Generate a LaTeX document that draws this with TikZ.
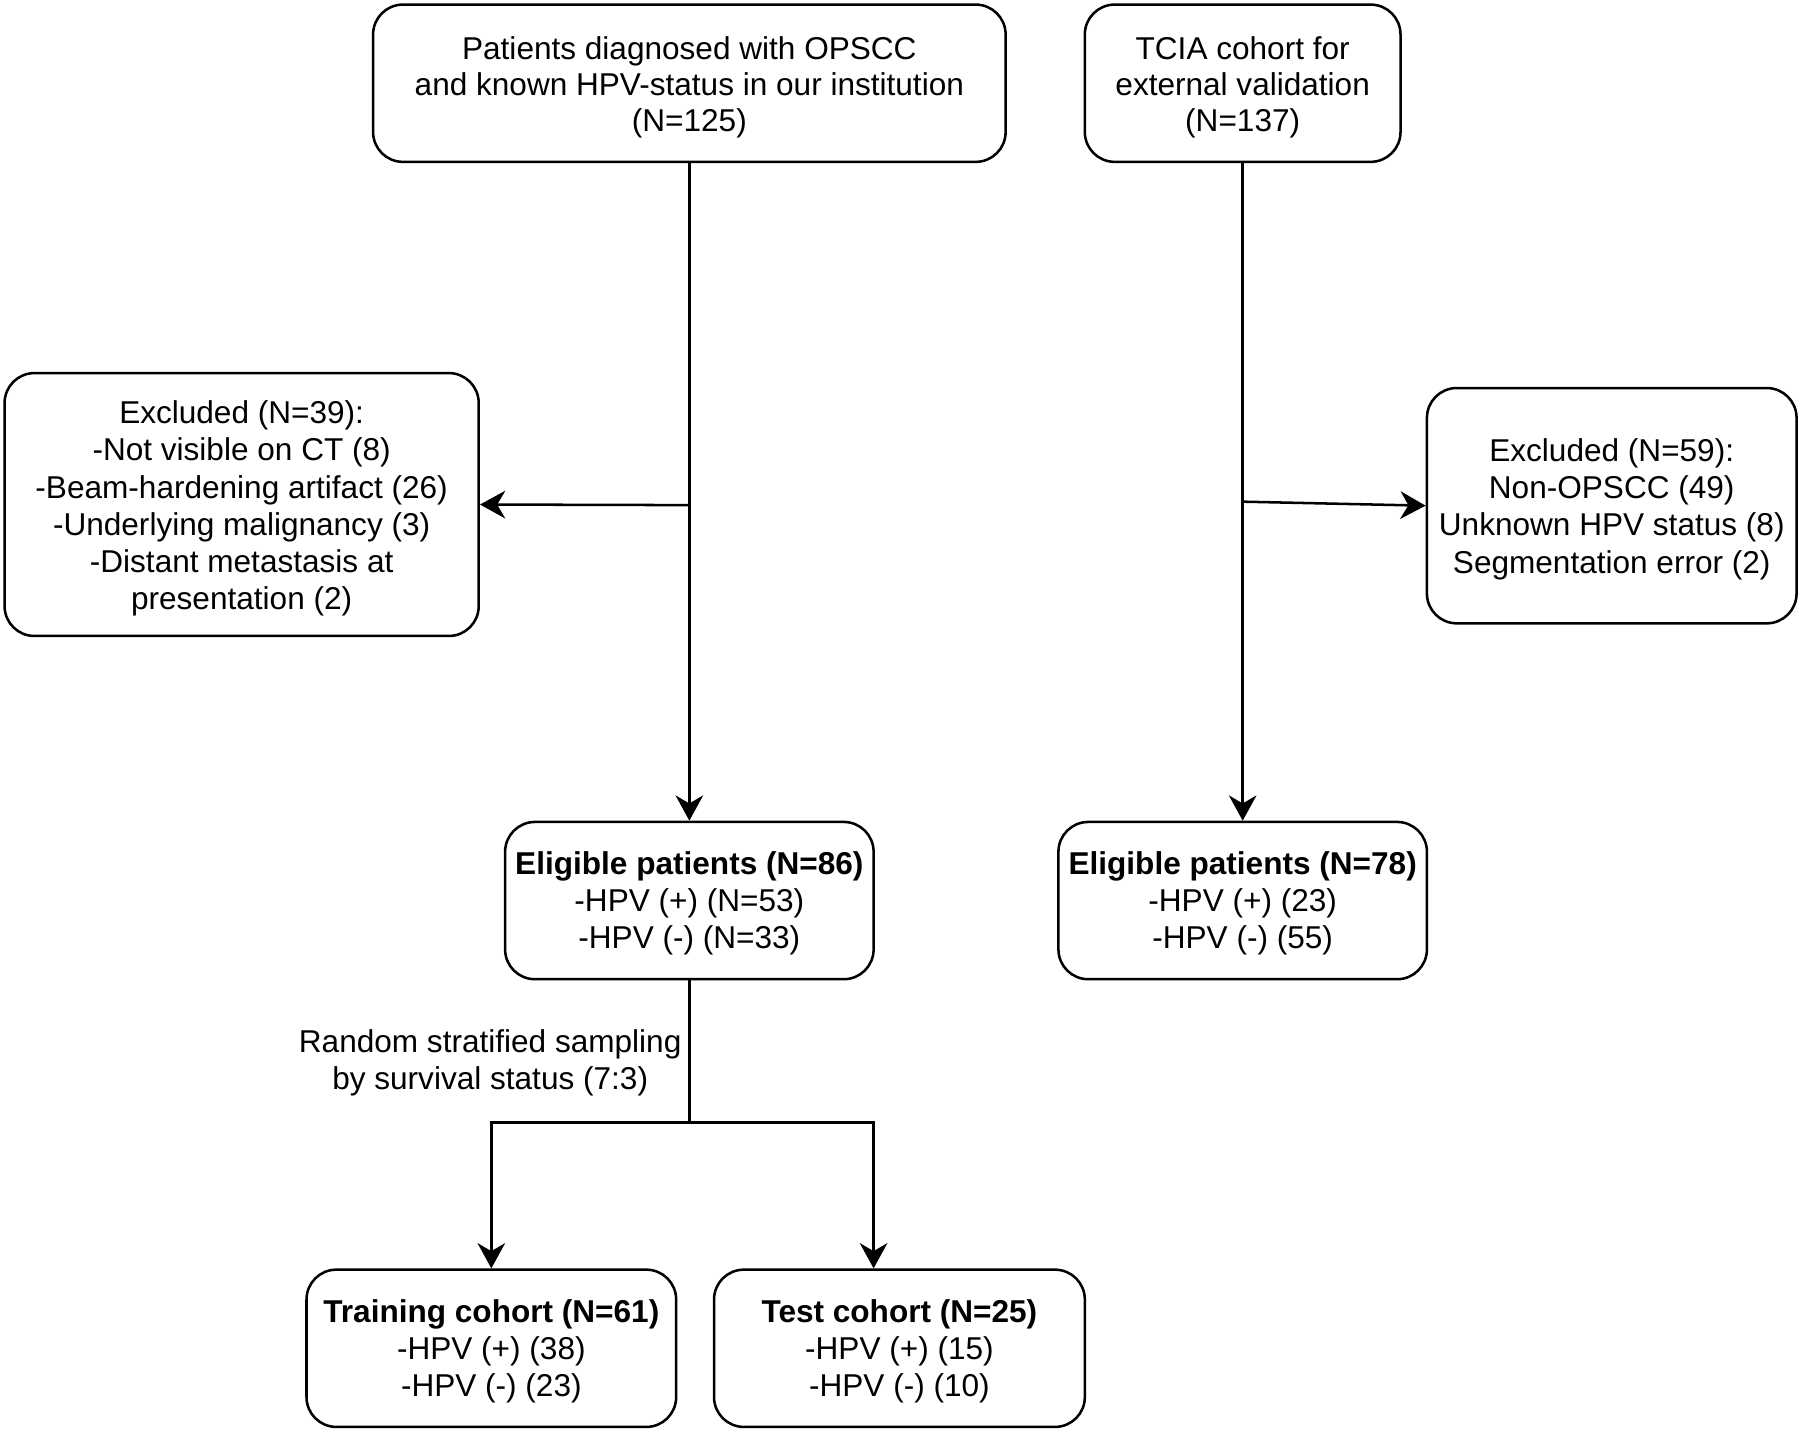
\documentclass[tikz,border=0pt]{standalone}
\usepackage{fontspec}
\setmainfont{Liberation Sans}
\usetikzlibrary{arrows.meta,calc}
\tikzset{
  box/.style={draw, line width=1.1pt, rounded corners=13pt, inner sep=0pt},
  txt/.style={align=center, inner sep=0pt, font=\fontsize{13.75}{16.2}\selectfont},
  toptxt/.style={txt, font=\fontsize{13.75}{15.8}\selectfont},
  arr/.style={line width=1.1pt, -{Stealth[length=11pt,width=12pt,inset=3.5pt]}},
  conn/.style={line width=1.1pt}
}
\begin{document}
\begin{tikzpicture}[x=0.5pt,y=-0.5pt]
\useasboundingbox (0,0) rectangle (1568,1247.4);
\node[box, minimum width=275.5pt, minimum height=68.5pt] (A) at (600.5,72.5) {};
\node[toptxt] (At) at ([yshift=-1.7pt]A.center)
  {Patients diagnosed with OPSCC\\and known HPV-status in our institution\\(N=125)};
\node[box, minimum width=137.5pt, minimum height=68.5pt] (B) at (1082.5,72.5) {};
\node[toptxt] (Bt) at ([yshift=-1.7pt]B.center)
  {TCIA cohort for\\external validation\\(N=137)};
\node[box, minimum width=206.5pt, minimum height=114.5pt] (C) at (210.5,439.5) {};
\node[txt] (Ct) at ([yshift=-1.7pt]C.center)
  {Excluded (N=39):\\-Not visible on CT (8)\\-Beam-hardening artifact (26)\\-Underlying malignancy (3)\\-Distant metastasis at\\presentation (2)};
\node[box, minimum width=161pt, minimum height=102.5pt] (D) at (1404,440.5) {};
\node[txt] (Dt) at ([yshift=-1.5pt]D.center)
  {Excluded (N=59):\\Non-OPSCC (49)\\Unknown HPV status (8)\\Segmentation error (2)};
\node[box, minimum width=160.5pt, minimum height=68.5pt] (E) at (600.5,784.5) {};
\node[txt] (Et) at ([yshift=-1.3pt]E.center)
  {\textbf{Eligible patients (N=86)}\\-HPV (+) (N=53)\\-HPV (-) (N=33)};
\node[box, minimum width=160.5pt, minimum height=68.5pt] (F) at (1082.5,784.5) {};
\node[txt] (Ft) at ([yshift=-1.3pt]F.center)
  {\textbf{Eligible patients (N=78)}\\-HPV (+) (23)\\-HPV (-) (55)};
\node[box, minimum width=161pt, minimum height=68.5pt] (G) at (428,1174.5) {};
\node[txt] (Gt) at ([yshift=-1.3pt]G.center)
  {\textbf{Training cohort (N=61)}\\-HPV (+) (38)\\-HPV (-) (23)};
\node[box, minimum width=161.5pt, minimum height=68.5pt] (H) at (783.5,1174.5) {};
\node[txt] (Ht) at ([yshift=-1.3pt]H.center)
  {\textbf{Test cohort (N=25)}\\-HPV (+) (15)\\-HPV (-) (10)};
\node[txt] (L) at (427,925.5) {Random stratified sampling\\by survival status (7:3)};

\coordinate (jA) at (600.5,440);
\coordinate (jB) at (1082.5,437);
\coordinate (split) at (600.5,978);
\coordinate (hx) at (761,0);

\draw[arr] (A.south) -- (E.north);
\draw[arr] (jA) -- (C.east);
\draw[arr] (B.south) -- (F.north);
\draw[arr] (jB) -- (D.west);
\draw[conn] (E.south) -- (split);
\draw[arr] (split) -| (G.north);
\draw[arr] (split) -| (H.north -| hx);
\end{tikzpicture}
\end{document}
